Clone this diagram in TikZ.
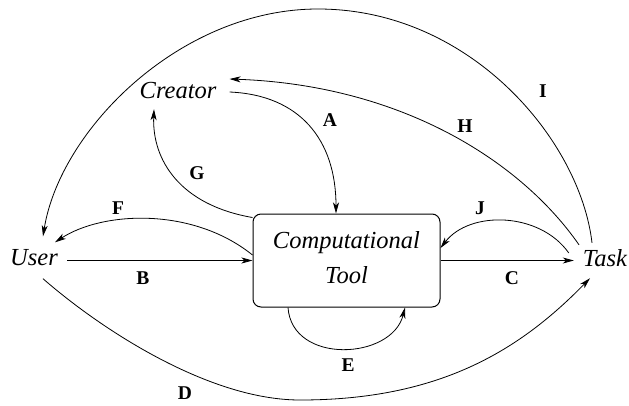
\documentclass[tikz,border=0pt]{standalone}
\usepackage{fontspec}
\setmainfont{Liberation Serif}
\usetikzlibrary{arrows.meta}
\begin{document}
\begin{tikzpicture}[x=1pt,y=-1pt,
  term/.style={font=\fontsize{24.5}{29}\selectfont\itshape, inner sep=0pt, text height=16pt, text depth=0pt},
  lab/.style={font=\fontsize{19.5}{23}\selectfont\bfseries, inner sep=0pt, text height=13pt, text depth=0pt},
  toolbox/.style={draw, line width=1pt, rounded corners=8pt, minimum width=187pt, minimum height=93pt,
     align=center, font=\fontsize{24.5}{35}\selectfont\itshape, inner sep=0pt},
  conn/.style={line width=0.8pt, -{Stealth[length=11pt,width=6pt,inset=3pt]}}]
\useasboundingbox (0,0) rectangle (629,405);

\node[term] (user) at (34,257.5) {User};
\node[term] (task) at (605,258) {Task};
\node[term] (creator) at (178,90) {Creator};
\node[toolbox] (box) at (346.5,260.5) {Computational\\Tool\rule[-7pt]{0pt}{7pt}};

% A
\draw[conn] ([xshift=13pt,yshift=-2pt]creator.east) .. controls (300,95) and (336,140) .. ([xshift=-10.5pt]box.north);
% G
\draw[conn] ([yshift=-4pt]box.north west) .. controls (180,205) and (152,160) .. ([xshift=-24pt,yshift=-11pt]creator.south);
% F
\draw[conn] ([yshift=5.5pt]box.west) .. controls (193,207) and (103,211) .. ([xshift=21pt,yshift=7pt]user.north);
% B
\draw[conn] ([xshift=9pt]user.east |- box.west) -- (box.west);
% C
\draw[conn] (box.east) -- ([xshift=-9pt]task.west |- box.east);
% J
\draw[conn] ([xshift=-14pt,yshift=5pt]task.west) .. controls (540,212) and (470,210) .. ([yshift=12.5pt]box.east);
% E
\draw[conn] ([xshift=-58.5pt]box.south) .. controls (292,365) and (392,360) .. ([xshift=58.5pt]box.south);
% D
\draw[conn] ([xshift=9pt,yshift=-13pt]user.south) .. controls (103,331) and (210,400) .. (300,400)
  .. controls (440,400) and (520,350) .. ([xshift=-15pt,yshift=-12pt]task.south);
% H
\draw[conn] ([xshift=-26pt,yshift=5pt]task.north) .. controls (520,160) and (400,85) .. ([xshift=13pt,yshift=11pt]creator.east);
% I
\draw[conn] ([xshift=-13pt,yshift=7pt]task.north) .. controls (580,140) and (470,9) .. (318,9)
  .. controls (180,9) and (60,130) .. ([xshift=9pt,yshift=13pt]user.north);

\node[lab] (la) at (330,120) {A};
\node[lab] (lh) at (465,126) {H};
\node[lab] (li) at (543,91) {I};
\node[lab] (lg) at (197,173) {G};
\node[lab] (lf) at (118,208) {F};
\node[lab] (lb) at (143,278) {B};
\node[lab] (lj) at (480,208) {J};
\node[lab] (lc) at (512,278) {C};
\node[lab] (le) at (348,365) {E};
\node[lab] (ld) at (185,393) {D};
\end{tikzpicture}
\end{document}
